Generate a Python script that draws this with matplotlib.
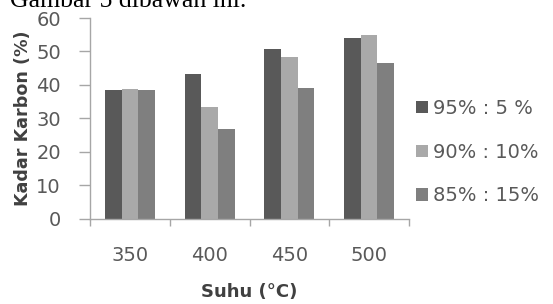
import matplotlib
matplotlib.use("Agg")
import matplotlib.pyplot as plt
import numpy as np

categories = ["350", "400", "450", "500"]
series_labels = ["95% : 5 %", "90% : 10%", "85% : 15%"]
s95 = [38.6, 43.2, 50.7, 54.0]
s90 = [38.9, 33.4, 48.3, 54.9]
s85 = [38.5, 26.7, 39.0, 46.5]
colors = ["#595959", "#a9a9a9", "#7f7f7f"]
yticks = [0, 10, 20, 30, 40, 50, 60]

W, H = 553, 304
fig = plt.figure(figsize=(W / 100, H / 100), dpi=100)
ax = fig.add_axes([90 / W, 1 - 218.5 / H, (409 - 90) / W, (218.5 - 18) / H])

x = np.arange(len(categories))
bw = 0.21
for i, (vals, c, lab) in enumerate(zip([s95, s90, s85], colors, series_labels)):
    ax.bar(x + (i - 1) * bw, vals, width=bw, color=c, label=lab, zorder=2)

ax.set_xlim(-0.5, len(categories) - 0.5)
ax.set_ylim(0, 60)
ax.set_yticks(yticks)
ax.set_yticklabels([str(v) for v in yticks])
ax.set_xticks(x)
ax.set_xticklabels(categories)
ax.set_xticks(np.arange(-0.5, len(categories)), minor=True)

axis_col = "#a6a6a6"
txt_col = "#595959"
for s in ["top", "right"]:
    ax.spines[s].set_visible(False)
for s in ["left", "bottom"]:
    ax.spines[s].set_color(axis_col)
    ax.spines[s].set_linewidth(1.0)

ax.tick_params(axis="y", direction="out", length=8, width=1, color=axis_col,
               labelsize=14, labelcolor=txt_col, pad=13)
ax.tick_params(axis="x", which="major", length=0, labelsize=14, labelcolor=txt_col, pad=20)
ax.tick_params(axis="x", which="minor", direction="out", length=5, width=1, color=axis_col)

ax.set_ylabel("Kadar Karbon (%)", fontsize=12.6, fontweight="bold", color="#404040")
ax.yaxis.set_label_coords(-58 / (409 - 90), 0.5)
ax.set_xlabel("Suhu (\u00b0C)", fontsize=13, fontweight="bold", color="#404040")
ax.xaxis.set_label_coords(0.5, -(292 - 218.5) / (218.5 - 18))
ax.xaxis.label.set_va("center")

leg = fig.legend(loc="upper left", bbox_to_anchor=(416 / W, 1 - 99 / H), frameon=False,
                 fontsize=14, handlelength=0.6, handleheight=0.6, handletextpad=0.25,
                 labelspacing=1.27, borderaxespad=0, borderpad=0)
for t in leg.get_texts():
    t.set_color(txt_col)

fig.text(10 / W, 1 - 7 / H, "Gambar 5 dibawah ini.", fontsize=18.5,
         family="Liberation Serif", color="black", va="baseline", ha="left")

fig.savefig("out.png", dpi=100)
